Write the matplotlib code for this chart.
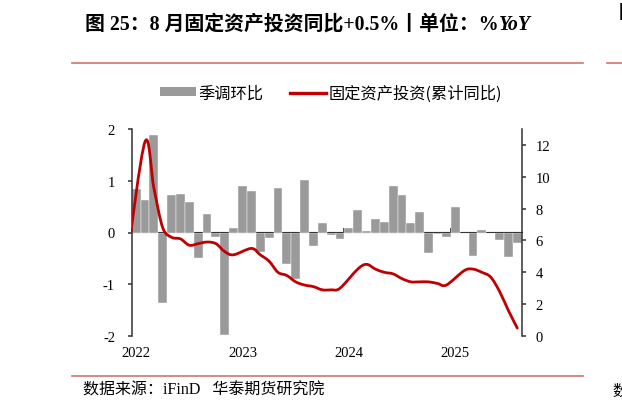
import numpy as np
import matplotlib
matplotlib.use("Agg")
import matplotlib.pyplot as plt
from matplotlib.path import Path
from matplotlib.patches import PathPatch, Patch
from matplotlib.lines import Line2D

plt.rcParams['axes.unicode_minus'] = False

# seasonally adjusted m/m (%), Jan 2022 .. Aug 2025
mom_values = [0.84, 0.62, 1.89, -1.37, 0.72, 0.75, 0.59, -0.50, 0.35, -0.08, -1.98, 0.09,
              0.90, 0.81, -0.37, -0.11, 0.86, -0.61, -0.89, 1.01, -0.26, 0.18, -0.04, -0.12,
              0.08, 0.43, 0.03, 0.26, 0.21, 0.89, 0.73, 0.19, 0.40, -0.40, -0.03, -0.08,
              0.49, 0.00, -0.45, 0.04, -0.01, -0.14, -0.48, -0.20]

# fixed asset investment, cumulative y/y (%)
fai_months = ['2021-12',
              '2022-02', '2022-03', '2022-04', '2022-05', '2022-06', '2022-07', '2022-08',
              '2022-09', '2022-10', '2022-11', '2022-12',
              '2023-02', '2023-03', '2023-04', '2023-05', '2023-06', '2023-07', '2023-08',
              '2023-09', '2023-10', '2023-11', '2023-12',
              '2024-02', '2024-03', '2024-04', '2024-05', '2024-06', '2024-07', '2024-08',
              '2024-09', '2024-10', '2024-11', '2024-12',
              '2025-02', '2025-03', '2025-04', '2025-05', '2025-06', '2025-07', '2025-08']
fai_values = [4.9,
              12.2, 9.3, 6.8, 6.2, 6.1, 5.7, 5.8, 5.9, 5.8, 5.3, 5.1,
              5.5, 5.1, 4.7, 4.0, 3.8, 3.4, 3.2, 3.1, 2.9, 2.9, 3.0,
              4.2, 4.5, 4.2, 4.0, 3.9, 3.6, 3.4, 3.4, 3.4, 3.3, 3.2,
              4.1, 4.2, 4.0, 3.7, 2.8, 1.6, 0.5]

year_labels = ['2022', '2023', '2024', '2025']

CJK = ['Noto Sans CJK SC', 'DejaVu Sans']
SERIF_CJK = ['Liberation Serif', 'Noto Sans CJK SC']
GRAY = '#9a9a9a'
RED = '#c00000'
RULE = '#d27270'


def month_pos(s):
    # month index from Jan 2022, centred in the month
    y, m = s.split('-')
    return (int(y) - 2022) * 12 + int(m) - 1 + 0.5


def smooth_path(xs, ys):
    # excel style smoothed line: catmull-rom as cubic beziers
    pts = np.column_stack([xs, ys])
    n = len(pts)
    verts = [pts[0]]
    codes = [Path.MOVETO]
    for i in range(n - 1):
        p0 = pts[max(i - 1, 0)]
        p1 = pts[i]
        p2 = pts[i + 1]
        p3 = pts[min(i + 2, n - 1)]
        verts += [p1 + (p2 - p0) / 6, p2 - (p3 - p1) / 6, p2]
        codes += [Path.CURVE4] * 3
    return Path(verts, codes)


fig = plt.figure(figsize=(6.22, 4.10), dpi=100)
W, H = 622, 410
ax = fig.add_axes([131.7 / W, 1 - 337 / H, (521.7 - 131.7) / W, (337 - 130) / H])

x_bar = np.arange(len(mom_values)) + 0.5
ax.bar(x_bar, mom_values, width=1.0, color=GRAY, edgecolor='white', linewidth=0.3)
ax.set_xlim(0, len(mom_values))
ax.set_ylim(-2, 2)
ax.set_yticks([-2, -1, 0, 1, 2])

for side in ['top', 'bottom']:
    ax.spines[side].set_visible(False)
ax.spines['left'].set_linewidth(1.1)
ax.spines['left'].set_color('#333333')
ax.spines['right'].set_visible(False)
ax.tick_params(axis='y', direction='out', length=3, width=1.1, color='#333333', pad=9,
               labelsize=10.5)
for lab in ax.get_yticklabels():
    lab.set_family('Liberation Serif')

# year labels at bottom, under the January of each year
ax.set_xticks([12 * i + 0.5 for i in range(len(year_labels))])
ax.set_xticklabels(year_labels, family='Liberation Serif', fontsize=10.5)
ax.tick_params(axis='x', length=0, pad=7)

# zero line with year boundary ticks
zero_ax = ax.secondary_xaxis(0.5)
zero_ax.set_xticks([12 * i for i in range(len(year_labels))])
zero_ax.set_xticklabels([])
zero_ax.spines['bottom'].set_linewidth(1.5)
zero_ax.spines['bottom'].set_color('black')
zero_ax.tick_params(axis='x', direction='out', length=3, width=1.2, color='black')

ax2 = ax.twinx()
ax2.set_ylim(0, 13)
ax2.set_yticks(range(0, 13, 2))
for side in ['top', 'bottom', 'left']:
    ax2.spines[side].set_visible(False)
ax2.spines['right'].set_linewidth(1.1)
ax2.spines['right'].set_color('#333333')
ax2.tick_params(axis='y', direction='out', length=3, width=1.1, color='#333333', pad=7,
                labelsize=10.5)
for lab in ax2.get_yticklabels():
    lab.set_family('Liberation Serif')

fai_x = [month_pos(m) for m in fai_months]
line = PathPatch(smooth_path(fai_x, fai_values), fill=False, edgecolor=RED,
                 linewidth=2.0, capstyle='round', joinstyle='round', transform=ax2.transData)
ax2.add_patch(line)

handles = [Patch(facecolor=GRAY, edgecolor='none'), Line2D([], [], color=RED, lw=2.4)]
leg = fig.legend(handles, ['季调环比', '固定资产投资(累计同比)'], loc='center',
                 bbox_to_anchor=(331 / W, 1 - 94 / H), ncol=2, frameon=False,
                 prop={'family': CJK, 'size': 11.7}, handlelength=2.2, handleheight=0.45,
                 handletextpad=0.2, columnspacing=1.6)

# title
t = fig.text(85 / W, 1 - 25 / H, '图 25：8 月固定资产投资同比+0.5%丨单位：%',
             family=SERIF_CJK, fontweight='bold', fontsize=14.3, va='center', ha='left')
ax.annotate('YoY', xy=(1, 0.5), xycoords=t, va='center', ha='left', family='Liberation Serif',
            fontweight='bold', style='italic', fontsize=14.3, annotation_clip=False)

# page rules and source note
fig.add_artist(Line2D([71.7 / W, 583 / W], [1 - 64 / H] * 2, color=RULE, lw=1.2))
fig.add_artist(Line2D([606.7 / W, 1.0], [1 - 64 / H] * 2, color=RULE, lw=1.2))
fig.add_artist(Line2D([71.7 / W, 583 / W], [1 - 377 / H] * 2, color=RULE, lw=1.2))
fig.text(83 / W, 1 - 391 / H, '数据来源：iFinD   华泰期货研究院', family=SERIF_CJK,
         fontsize=11.5, va='center', ha='left')

# edge of the neighbouring chart on the page
fig.text(619 / W, 1 - 13 / H, '图', family=CJK, fontweight='bold', fontsize=13,
         va='center', ha='left')
fig.text(612 / W, 1 - 391 / H, '数', family=CJK, fontsize=11, va='center', ha='left')

fig.savefig('out.png', dpi=100)
